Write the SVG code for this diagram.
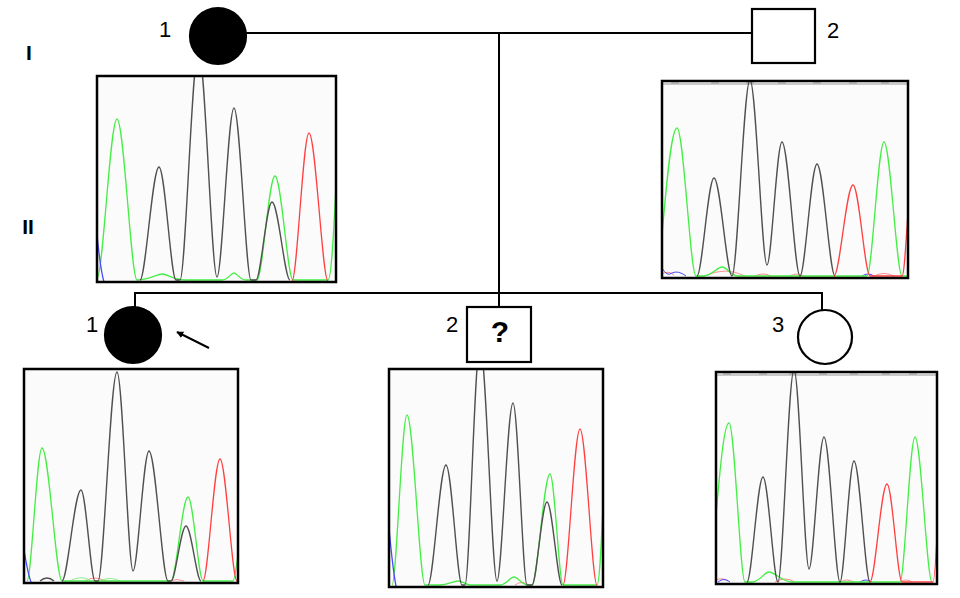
<svg xmlns="http://www.w3.org/2000/svg" width="960" height="598" viewBox="0 0 960 598">
<style>
.sym{stroke:#000;stroke-width:2.2;fill:#fff}
.aff{fill:#000}
.lbl{font-family:"Liberation Sans",Arial,sans-serif;font-size:22px;fill:#000}
.gen{font-family:"Liberation Sans",Arial,sans-serif;font-size:21px;font-weight:bold;fill:#000}
.q{font-family:"Liberation Sans",Arial,sans-serif;font-size:30px;font-weight:bold;fill:#000}
.con{stroke:#000;stroke-width:2;fill:none}
.box{fill:#fbfbfb;stroke:none}
.frame{fill:none;stroke:#000;stroke-width:2.5}
.g{fill:none;stroke:#44ee44;stroke-width:1.3}
.k{fill:none;stroke:#505050;stroke-width:1.4}
.r{fill:none;stroke:#ff4040;stroke-width:1.3}
.b{fill:none;stroke:#4848ff;stroke-width:1.3}
.rn{fill:none;stroke:#ff9090;stroke-width:1}
.gn{fill:none;stroke:#90ee90;stroke-width:1}
.top{stroke:#b8b8b8;stroke-width:1.5;fill:none}
.tick{stroke:#a0a0a0;stroke-width:1;fill:none}
</style>
<defs>
<clipPath id="c1"><rect x="97" y="76" width="239" height="206"/></clipPath>
<clipPath id="c2"><rect x="662" y="81" width="246" height="197"/></clipPath>
<clipPath id="c3"><rect x="24" y="369" width="214" height="214"/></clipPath>
<clipPath id="c4"><rect x="389" y="369" width="214" height="218"/></clipPath>
<clipPath id="c5"><rect x="716" y="372" width="221" height="212"/></clipPath>
<marker id="ah" viewBox="0 0 10 10" refX="9" refY="5" markerWidth="7" markerHeight="7" orient="auto" markerUnits="userSpaceOnUse">
<path d="M0,0 L10,5 L0,10 z" fill="#000"/>
</marker>
</defs>

<g id="connectors">
<line class="con" x1="246" y1="33" x2="752" y2="33"/>
<line class="con" x1="499" y1="33" x2="499" y2="293"/>
<line class="con" x1="135" y1="293" x2="822" y2="293"/>
<line class="con" x1="135" y1="292" x2="135" y2="307"/>
<line class="con" x1="499" y1="292" x2="499" y2="307"/>
<line class="con" x1="822" y1="292" x2="822" y2="310"/>
<line x1="209" y1="348" x2="177" y2="332" stroke="#000" stroke-width="2" marker-end="url(#ah)"/>
</g>

<text class="gen" x="29" y="60" text-anchor="middle">I</text>
<text class="gen" x="28" y="234" text-anchor="middle">II</text>

<g id="I-1">
<circle class="sym aff" cx="218" cy="36" r="28"/>
<text class="lbl" x="165" y="37" text-anchor="middle">1</text>
</g>
<g id="I-2">
<rect class="sym" x="752" y="9" width="63" height="54"/>
<text class="lbl" x="833" y="38" text-anchor="middle">2</text>
</g>
<g id="II-1">
<circle class="sym aff" cx="133" cy="335" r="28"/>
<text class="lbl" x="92" y="332" text-anchor="middle">1</text>
</g>
<g id="II-2">
<rect class="sym" x="467" y="307" width="64" height="55"/>
<text class="q" x="500" y="342" text-anchor="middle">?</text>
<text class="lbl" x="452" y="332" text-anchor="middle">2</text>
</g>
<g id="II-3">
<circle class="sym" cx="825" cy="337" r="27"/>
<text class="lbl" x="778" y="332" text-anchor="middle">3</text>
</g>

<g id="chrom-I-1">
<rect class="box" x="97" y="76" width="239" height="206"/>
<g clip-path="url(#c1)">
<path class="g" d="M97,278 C103,278 110,119 117,119 C124,119 131,280 137,280 C150,280 157,274 162,274 C167,274 174,280 185,280 L222,280 C228,280 231,273 234,273 C237,273 240,280 246,280 L257,280 C262.4,280 268.7,176 275,176 C281.3,176 287.6,280 293,280 L328,280 C333,280 336,170 338,150"/>
<path class="k" d="M140,280 C145.7,280 152.35,167 159,167 C164.95,167 170.9,280 176,280 L180,280 C185.55,280 192,50 198.5,50 C205,50 211.45,277 217,277 C222.1,277 228.05,108 234,108 C239.95,108 245.9,280 251,280 L256,280 C260.8,280 266.4,202 272,202 C278.3,202 284.6,280 290,280"/>
<path class="r" d="M292,281 C297.1,281 303.05,133 309,133 C315.65,133 322.3,281 328,281"/>
<path class="b" d="M97,235 C99,255 101,272 104,282"/>
</g>
<rect class="frame" x="97" y="76" width="239" height="206"/>
</g>

<g id="chrom-I-2">
<rect class="box" x="662" y="81" width="246" height="197"/>
<g clip-path="url(#c2)">
<line class="top" x1="662" y1="84" x2="908" y2="84"/>
<path class="tick" d="M671,83h8M711,83h8M746,83h8M778,83h8M813,83h8M849,83h8M881,83h8"/>
<path class="rn" d="M662,274 Q668,270 674,275 M705,276 Q725,266 745,276 M755,276 Q763,272 771,276 M790,276 Q797,272 804,276 M874,276 Q884,271 894,276"/>
<path class="b" d="M662,268 Q667,277 672,273 Q678,270 686,276 M862,276 Q868,272 874,276" style="stroke-width:1"/>
<path class="g" d="M662,235 C666,190 671,128 677,128 C683.65,128 690.3,276 696,276 L703,276 C712,276 717,267 722,267 C727,267 731,276 738,276 L867,276 C872.1,276 878.05,142 884,142 C890.3,142 896.6,276 902,276 L908,276"/>
<path class="k" d="M697,276 C702.1,276 708.05,178 714,178 C720.3,178 726.6,276 732,276 C737.4,276 743.7,80 750,80 C755.95,80 761.9,265 767,265 C771.5,265 776.75,142 782,142 C788.3,142 794.6,276 800,276 C805.1,276 811.05,164 817,164 C823.3,164 829.6,276 835,276"/>
<path class="r" d="M834,276 C839.7,276 846.35,185 853,185 C858.95,185 864.9,276 870,276 L902,276 C905,276 907,215 910,190"/>
</g>
<rect class="frame" x="662" y="81" width="246" height="197"/>
</g>

<g id="chrom-II-1">
<rect class="box" x="24" y="369" width="214" height="214"/>
<g clip-path="url(#c3)">
<path class="rn" d="M85,581 Q95,575 105,581 M170,581 Q177,578 184,581"/>
<path class="gn" d="M70,581 Q80,575 90,580 M100,581 Q110,576 120,581"/>
<path class="g" d="M27,581 C31.5,581 36.75,448 42,448 C49,448 56,581 62,581 L171,581 C176.1,581 182.05,497 188,497 C193.25,497 198.5,581 203,581 L233,581 C235,581 237,560 240,540"/>
<path class="k" d="M40,581 Q47,575 54,581 M62,581 C67.7,581 74.35,490 81,490 C85.9,490 90.8,581 95,581 L98,581 C103.7,581 110.35,372 117,372 C122.6,372 128.2,571 133,571 C137.8,571 143.4,451 149,451 C155.65,451 162.3,581 168,581 L171,581 C175.5,581 180.75,526 186,526 C191.25,526 196.5,581 201,581"/>
<path class="r" d="M203,581 C208.1,581 214.05,459 220,459 C225.95,459 231.9,581 237,581"/>
<path class="b" d="M24,550 C26,562 28,574 31,582"/>
</g>
<rect class="frame" x="24" y="369" width="214" height="214"/>
</g>

<g id="chrom-II-2">
<rect class="box" x="389" y="369" width="214" height="218"/>
<g clip-path="url(#c4)">
<path class="rn" d="M515,585 Q522,580 529,585"/>
<path class="g" d="M392,585 C396.5,585 401.75,415 407,415 C413.3,415 419.6,585 425,585 L440,585 C448,585 453,581 458,581 C463,581 466,585 470,585 L500,585 C506,585 510,577 514,577 C518,577 522,585 528,585 L532,585 C537.4,585 543.7,474 550,474 C554.55,474 559.1,585 563,585 L597,585 C600,585 602,530 605,460"/>
<path class="k" d="M428,585 C433.4,585 439.7,465 446,465 C451.6,465 457.2,585 462,585 L465,585 C469.5,585 474.75,345 480,345 C485.95,345 491.9,581 497,581 C501.8,581 507.4,403 513,403 C517.9,403 522.8,585 527,585 L532,585 C536.5,585 541.75,502 547,502 C552.25,502 557.5,585 562,585"/>
<path class="r" d="M563,585 C568.1,585 574.05,429 580,429 C585.95,429 591.9,585 597,585"/>
<path class="b" d="M389,528 C391,550 393,570 396,586"/>
</g>
<rect class="frame" x="389" y="369" width="214" height="218"/>
</g>

<g id="chrom-II-3">
<rect class="box" x="716" y="372" width="221" height="212"/>
<g clip-path="url(#c5)">
<line class="top" x1="716" y1="375" x2="937" y2="375"/>
<path class="tick" d="M723,374h8M759,374h8M789,374h8M819,374h8M850,374h8M882,374h8M909,374h8"/>
<path class="rn" d="M716,580 Q722,577 728,581 M775,582 Q785,576 795,582 M840,582 Q847,578 854,582 M900,582 Q906,578 912,582"/>
<path class="b" d="M718,582 Q724,577 730,582 M860,582 Q866,578 872,582" style="stroke-width:1"/>
<path class="g" d="M716,515 C720,470 724,423 729,423 C734.6,423 740.2,582 745,582 L752,582 C760,582 764,572 769,572 C775,572 782,582 792,582 L900,582 C904.5,582 909.75,437 915,437 C920.95,437 926.9,582 932,582"/>
<path class="k" d="M747,582 C751.8,582 757.4,477 763,477 C768.25,477 773.5,582 778,582 C782.8,582 788.4,370 794,370 C799.25,370 804.5,569 809,569 C813.5,569 818.75,437 824,437 C829.6,437 835.2,582 840,582 C844.2,582 849.1,461 854,461 C859.6,461 865.2,582 870,582"/>
<path class="r" d="M870,582 C875.1,582 881.05,484 887,484 C892.25,484 897.5,582 902,582 L933,582 C935,582 937,540 939,490"/>
</g>
<rect class="frame" x="716" y="372" width="221" height="212"/>
</g>
</svg>
